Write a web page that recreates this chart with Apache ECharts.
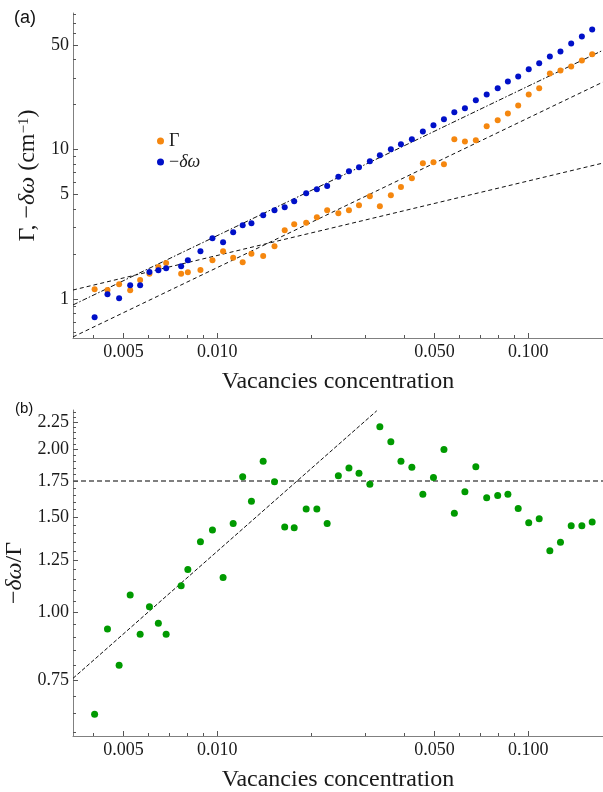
<!DOCTYPE html>
<html>
<head>
<meta charset="utf-8">
<script src="https://cdn.jsdelivr.net/npm/echarts@6/dist/echarts.min.js"></script>
<style>
html,body{margin:0;padding:0;background:#fff;}
#c{width:603px;height:792px;}
</style>
</head>
<body>
<div id="c"></div>
<script>
// ---- data ----
var conc = [0.004037, 0.004440, 0.004840, 0.005253, 0.005655, 0.006058, 0.006471, 0.006855, 0.007661, 0.008050,
  0.008837, 0.009658, 0.01045, 0.01126, 0.01208, 0.01289, 0.01406, 0.01529, 0.01649, 0.01769,
  0.01933, 0.02092, 0.02258, 0.02453, 0.02653, 0.02858, 0.03097, 0.03335, 0.03618, 0.03899,
  0.04227, 0.04585, 0.04960, 0.05360, 0.05789, 0.06260, 0.06787, 0.07355, 0.07980, 0.08605,
  0.09288, 0.1004, 0.1085, 0.1174, 0.1270, 0.1375, 0.1488, 0.1606];
var gammaVals = [1.161, 1.149, 1.254, 1.144, 1.340, 1.476, 1.637, 1.741, 1.476, 1.509,
  1.563, 1.815, 2.085, 1.889, 1.760, 2.009, 1.940, 2.251, 2.881, 3.160,
  3.239, 3.520, 3.921, 3.743, 3.921, 4.235, 4.864, 4.170, 4.939, 5.614,
  6.420, 8.086, 8.212, 7.962, 11.70, 11.34, 11.52, 14.30, 15.68, 17.46,
  19.75, 23.40, 25.67, 32.34, 33.87, 36.02, 39.51, 43.35];
var shiftVals = [0.7544, 1.075, 1.011, 1.235, 1.235, 1.516, 1.556, 1.604, 1.655, 1.815,
  2.085, 2.547, 2.395, 2.794, 3.112, 3.209, 3.630, 3.921, 4.107, 4.503,
  5.093, 5.418, 5.700, 6.578, 7.149, 7.602, 8.338, 9.147, 10.03, 10.83,
  11.70, 13.23, 14.52, 15.92, 17.74, 18.86, 21.34, 23.40, 25.67, 28.59,
  30.88, 34.40, 37.73, 42.02, 45.39, 51.33, 57.19, 63.68];
var ratioVals = [0.648, 0.932, 0.799, 1.077, 0.911, 1.025, 0.955, 0.911, 1.121, 1.201,
  1.351, 1.420, 1.160, 1.461, 1.782, 1.605, 1.903, 1.744, 1.439, 1.434,
  1.553, 1.553, 1.461, 1.789, 1.849, 1.808, 1.727, 2.204, 2.069, 1.903,
  1.855, 1.655, 1.777, 2.002, 1.525, 1.672, 1.860, 1.630, 1.646, 1.655,
  1.557, 1.465, 1.491, 1.300, 1.348, 1.446, 1.446, 1.470];

// fitted power-law guide lines (end points)
var fitX = [0.00344, 0.174];
var fitLinUpper = [0.912, 46.2];   // dot-dashed, slope 1
var fitLinLower = [0.557, 28.3];   // dashed, slope 1
var fitSqrt = [1.148, 8.12];       // dashed, slope 1/2
var ratioFitX = [0.00344, 0.0326];
var ratioFitY = [0.7555, 2.36];
var ratioLevel = [1.75, 1.75];

// ticks
var xMajor = [0.005, 0.01, 0.05, 0.1];
var xMinor = [0.004, 0.006, 0.007, 0.008, 0.009, 0.02, 0.03, 0.04, 0.06, 0.07, 0.08, 0.09];
var yaMajor = [1, 5, 10, 50];
var yaMinor = [0.6, 0.7, 0.8, 0.9, 2, 3, 4, 6, 7, 8, 9, 20, 30, 40, 60, 70, 80];
var ybMajor = [0.75, 1.00, 1.25, 1.50, 1.75, 2.00, 2.25];
var ybMinor = [0.60, 0.65, 0.70, 0.80, 0.85, 0.90, 0.95, 1.05, 1.10, 1.15, 1.20, 1.30, 1.35, 1.40, 1.45,
  1.55, 1.60, 1.65, 1.70, 1.80, 1.85, 1.90, 1.95, 2.05, 2.10, 2.15, 2.20, 2.30, 2.35];

var xRange = [0.00344, 0.174];
var yaRange = [0.548, 82];
var ybRange = [0.591, 2.368];

// ---- chart ----
var SERIF = 'Liberation Serif';
var AX = '#808080';
function zip(a, b) { return a.map(function (v, i) { return [v, b[i]]; }); }

function majorAxis(grid, range, vals, fmt, isX, name, nameGap, rich) {
  var ax = {
    type: 'log', gridIndex: grid, min: range[0], max: range[1],
    position: isX ? 'bottom' : 'left',
    axisLine: { show: true, lineStyle: { color: AX, width: 1 } },
    axisTick: { show: true, inside: true, length: 5, customValues: vals, lineStyle: { color: '#555', width: 1 } },
    axisLabel: { show: true, customValues: vals, formatter: fmt, fontFamily: SERIF, fontSize: 18, color: '#1a1a1a', margin: isX ? 5 : 4 },
    splitLine: { show: false }, minorTick: { show: false },
    name: name, nameLocation: 'middle', nameGap: nameGap,
    nameTextStyle: { fontFamily: SERIF, fontSize: 24, color: '#1a1a1a', rich: rich }
  };
  return ax;
}
function minorAxis(grid, range, vals, isX) {
  return {
    type: 'log', gridIndex: grid, min: range[0], max: range[1],
    position: isX ? 'bottom' : 'left',
    axisLine: { show: false },
    axisTick: { show: true, inside: true, length: 3, customValues: vals, lineStyle: { color: '#555', width: 1 } },
    axisLabel: { show: false },
    splitLine: { show: false }
  };
}

var richName = {
  r: { fontFamily: SERIF, fontSize: 24, color: '#1a1a1a' },
  i: { fontFamily: SERIF, fontSize: 24, fontStyle: 'italic', color: '#1a1a1a' },
  s: { fontFamily: SERIF, fontSize: 15, color: '#1a1a1a', verticalAlign: 'top', lineHeight: 15 }
};
var richXName = { r: { fontFamily: SERIF, fontSize: 24, color: '#1a1a1a' } };

var fmtX = function (v) { return v.toFixed(3); };
var fmtYa = function (v) { return String(Math.round(v)); };
var fmtYb = function (v) { return v.toFixed(2); };

var option = {
  animation: false,
  backgroundColor: '#fff',
  grid: [
    { left: 73, top: 13, width: 530, height: 325, containLabel: false, outerBoundsMode: 'none' },
    { left: 73, top: 410, width: 530, height: 326, containLabel: false, outerBoundsMode: 'none' }
  ],
  xAxis: [
    majorAxis(0, xRange, xMajor, fmtX, true, '{r|Vacancies concentration}', 32, richXName),
    minorAxis(0, xRange, xMinor, true),
    majorAxis(1, xRange, xMajor, fmtX, true, '{r|Vacancies concentration}', 32, richXName),
    minorAxis(1, xRange, xMinor, true)
  ],
  yAxis: [
    majorAxis(0, yaRange, yaMajor, fmtYa, false, '{r|Γ, −}{i|δω}{r| (cm}{s|−1}{r|)}', 26, richName),
    minorAxis(0, yaRange, yaMinor, false),
    majorAxis(1, ybRange, ybMajor, fmtYb, false, '{r|−}{i|δω}{r|/Γ}', 44, richName),
    minorAxis(1, ybRange, ybMinor, false)
  ],
  legend: {
    orient: 'vertical', left: 152, top: 127, itemWidth: 7, itemHeight: 7, itemGap: 3,
    icon: 'circle', selectedMode: false,
    data: ['Γ', '−δω'],
    formatter: function (n) { return n === 'Γ' ? '{r|Γ}' : '{r|−}{i|δω}'; },
    textStyle: {
      fontFamily: SERIF, fontSize: 18, color: '#1a1a1a',
      rich: {
        r: { fontFamily: SERIF, fontSize: 18, color: '#1a1a1a' },
        i: { fontFamily: SERIF, fontSize: 18, fontStyle: 'italic', color: '#1a1a1a' }
      }
    }
  },
  graphic: [
    { type: 'text', left: 14, top: 9, style: { text: '(a)', font: '18px "Liberation Sans"', fill: '#111' } },
    { type: 'text', left: 15, top: 401, style: { text: '(b)', font: '15px "Liberation Sans"', fill: '#111' } }
  ],
  series: [
    { name: 'fitSqrt', type: 'line', xAxisIndex: 0, yAxisIndex: 0, data: zip(fitX, fitSqrt), showSymbol: false, silent: true,
      lineStyle: { color: '#111', width: 1, type: [4, 3] } },
    { name: 'fitLow', type: 'line', xAxisIndex: 0, yAxisIndex: 0, data: zip(fitX, fitLinLower), showSymbol: false, silent: true,
      lineStyle: { color: '#111', width: 1, type: [4, 3] } },
    { name: 'fitUp', type: 'line', xAxisIndex: 0, yAxisIndex: 0, data: zip(fitX, fitLinUpper), showSymbol: false, silent: true,
      lineStyle: { color: '#111', width: 1, type: [5, 2, 1.5, 2] } },
    { name: 'Γ', type: 'scatter', xAxisIndex: 0, yAxisIndex: 0, data: zip(conc, gammaVals), symbolSize: 6,
      itemStyle: { color: '#F5870F', opacity: 1 }, z: 3 },
    { name: '−δω', type: 'scatter', xAxisIndex: 0, yAxisIndex: 0, data: zip(conc, shiftVals), symbolSize: 6,
      itemStyle: { color: '#0010C8', opacity: 1 }, z: 3 },
    { name: 'level', type: 'line', xAxisIndex: 2, yAxisIndex: 2, data: zip(xRange, ratioLevel), showSymbol: false, silent: true,
      lineStyle: { color: '#555', width: 1.6, type: [5, 3] } },
    { name: 'ratioFit', type: 'line', xAxisIndex: 2, yAxisIndex: 2, data: zip(ratioFitX, ratioFitY), showSymbol: false, silent: true,
      lineStyle: { color: '#111', width: 1, type: [4, 2] } },
    { name: 'ratio', type: 'scatter', xAxisIndex: 2, yAxisIndex: 2, data: zip(conc, ratioVals), symbolSize: 7,
      itemStyle: { color: '#009A00', opacity: 1 }, z: 3 }
  ]
};
var chart = echarts.init(document.getElementById('c'), null, { renderer: 'canvas' });
chart.setOption(option);
</script>
</body>
</html>
